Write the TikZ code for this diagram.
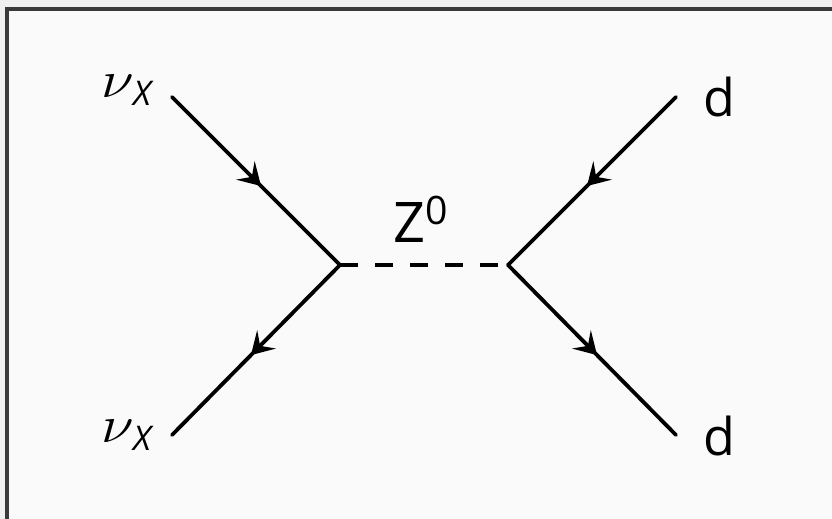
\documentclass[tikz,border=0pt]{standalone}
\usepackage{fontspec}
\setmainfont{Open Sans}
\usetikzlibrary{arrows.meta,decorations.markings}
\definecolor{outerbg}{HTML}{F0F0F0}
\definecolor{innerbg}{HTML}{FAFAFA}
\definecolor{framec}{HTML}{3A3A3A}
\tikzset{
  fermion/.style={line width=1.9pt, line cap=round, postaction={decorate},
    decoration={markings, mark=at position 0.53 with {\arrow{Stealth[length=11pt,width=13pt,inset=4.5pt]}}}},
  boson/.style={line width=1.9pt, dash pattern=on 9pt off 8.5pt},
  lbl/.style={inner sep=0pt, anchor=base west, font=\fontsize{26}{30}\selectfont},
  nulbl/.style={inner sep=0pt, anchor=base west, font=\fontsize{24.88}{30}\selectfont}
}
\newcommand{\nux}{\scalebox{1.2}[1.05]{$\nu$}\kern-0.5pt\raisebox{-4pt}{\fontsize{17}{20}\selectfont\itshape X}}
\begin{document}
\begin{tikzpicture}[x=0.5pt,y=-0.5pt]
\useasboundingbox (0,0) rectangle (832,519);
\fill[outerbg] (0,0) rectangle (832,519);
\fill[innerbg] (7,9) rectangle (840,530);
\draw[framec, line width=2pt] (7,540) -- (7,9) -- (850,9);
\coordinate (v1) at (340,265);
\coordinate (v2) at (508,265);
\coordinate (ul) at (172,97);
\coordinate (ll) at (172,435);
\coordinate (ur) at (676,97);
\coordinate (lr) at (676,435);
\node[nulbl] (nu1) at (101,98) {\nux};
\node[nulbl] (nu2) at (101,443) {\nux};
\node[lbl] (d1) at (703,117) {d};
\node[lbl] (d2) at (703,456) {d};
\node[lbl, font=\fontsize{28}{32}\selectfont] (z) at (393,243) {Z\textsuperscript{0}};
\draw[fermion] (ul) -- (v1);
\draw[fermion] (v1) -- (ll);
\draw[fermion] (ur) -- (v2);
\draw[fermion] (v2) -- (lr);
\draw[boson] (v1) -- (v2);
\end{tikzpicture}
\end{document}
